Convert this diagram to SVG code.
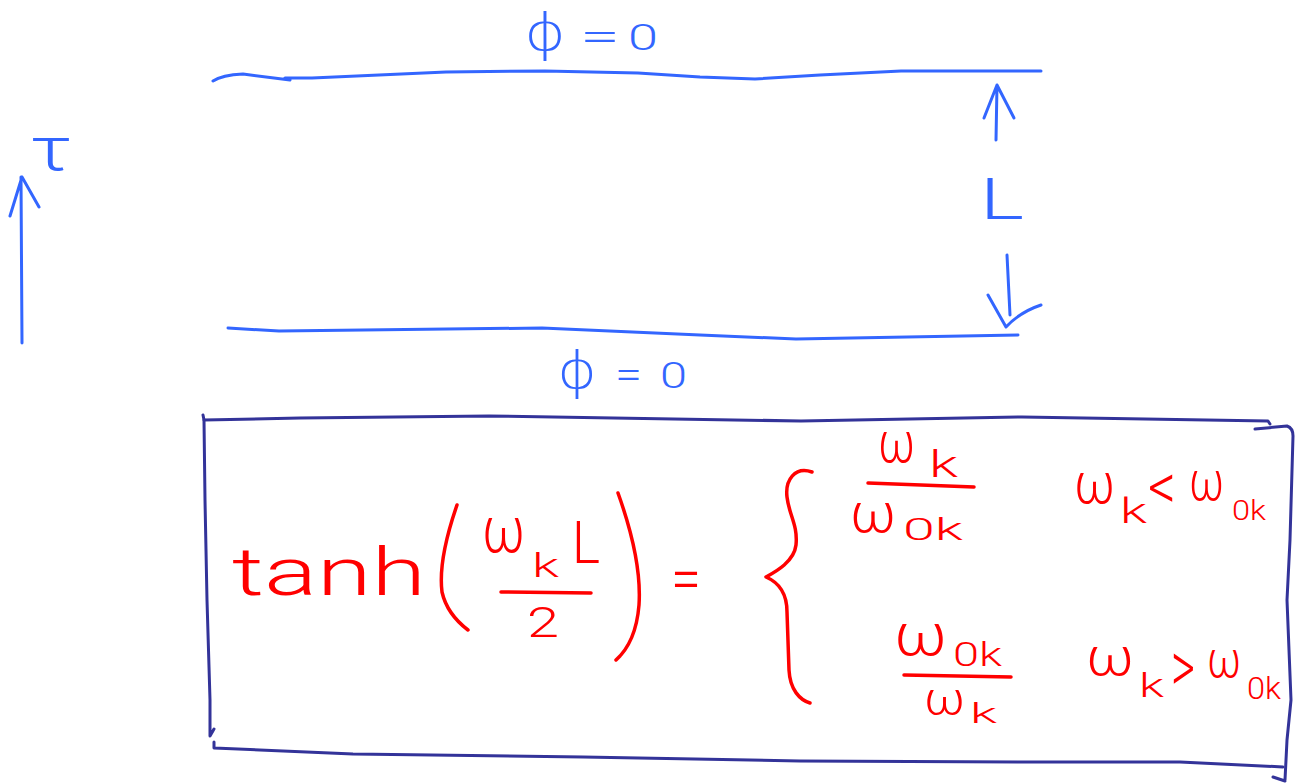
<svg xmlns="http://www.w3.org/2000/svg" width="1305" height="784" viewBox="0 0 1305 784">
<style>
.bl{fill:none;stroke:#3366ff;stroke-width:3;stroke-linecap:round;stroke-linejoin:round}
.db{fill:none;stroke:#333399;stroke-width:3;stroke-linecap:round;stroke-linejoin:round}
.rd{fill:none;stroke:#ff0000;stroke-width:3.5;stroke-linecap:round;stroke-linejoin:round}
.tb{fill:#3366ff;font-family:Roboto,"DejaVu Sans",sans-serif;font-weight:300}
.tr{fill:#ff0000;font-family:Roboto,"DejaVu Sans",sans-serif;font-weight:300}
</style>
<rect width="1305" height="784" fill="#ffffff"/>
<g id="top-boundary">
<path class="bl" d="M213,81 Q222,75 243,74 L290,80 M285,78 L312,78 L446,72 L545,71 L638,73 L700,77 L755,79 L820,75 L901,71 L1041,71"/>
<text class="tb" y="50"><tspan x="524" font-size="52" textLength="42" lengthAdjust="spacingAndGlyphs">ϕ</tspan> <tspan x="580" font-size="40" textLength="40" lengthAdjust="spacingAndGlyphs">=</tspan> <tspan x="628" font-size="36" textLength="30" lengthAdjust="spacingAndGlyphs">0</tspan></text>
</g>
<g id="bottom-boundary">
<path class="bl" d="M228,328 L279,331 L542,328 L700,335 L796,339 L1018,335"/>
<text class="tb" y="388"><tspan x="557" font-size="52" textLength="40" lengthAdjust="spacingAndGlyphs">ϕ</tspan> <tspan x="615" font-size="40" textLength="27" lengthAdjust="spacingAndGlyphs">=</tspan> <tspan x="660" font-size="36" textLength="27" lengthAdjust="spacingAndGlyphs">0</tspan></text>
</g>
<g id="tau-label">
<text class="tb" x="30" y="170" font-size="62" textLength="42" lengthAdjust="spacingAndGlyphs">τ</text>
</g>
<g id="L-label">
<text class="tb" x="980" y="219" font-size="58" textLength="44" lengthAdjust="spacingAndGlyphs">L</text>
</g>
<g id="connectors">
<path class="bl" d="M22,343 L21,177 M10,216 L22,177 L39,207"/>
<path class="bl" d="M996,140 L997,85 M984,118 L997,85 L1014,118"/>
<path class="bl" d="M1007,255 L1010,315 M988,295 L1006,327 Q1020,312 1041,305"/>
</g>
<g id="formula-box">
<path class="db" d="M203,415 L204,420 L300,418 L489,416 L801,421 L1022,417 L1268,421 L1270,424"/>
<path class="db" d="M204,420 L205,500 L207,600 L210,700 L210,736 L214,729"/>
<path class="db" d="M214,742 L214,748 L353,754 L583,757 L800,761 L1033,762 L1180,762 L1283,767"/>
<path class="db" d="M1255,429 L1287,426 Q1293,428 1293,436 L1290,540 L1287,600 L1291,700 L1287,740 L1285,780 M1273,777 L1285,781"/>
</g>
<g id="formula">
<text class="tr" x="232" y="595" font-size="66" textLength="194" lengthAdjust="spacingAndGlyphs">tanh</text>
<path class="rd" d="M457,505 Q438,560 442,592 Q447,614 468,630"/>
<text class="tr" y="552"><tspan x="482" font-size="64" textLength="43" lengthAdjust="spacingAndGlyphs">ω</tspan><tspan x="532" y="577" font-size="33" textLength="27" lengthAdjust="spacingAndGlyphs">k</tspan><tspan x="572" y="563" font-size="60" textLength="28" lengthAdjust="spacingAndGlyphs">L</tspan></text>
<path class="rd" d="M501,592 L591,593"/>
<text class="tr" x="527" y="637" font-size="42" textLength="32" lengthAdjust="spacingAndGlyphs">2</text>
<path class="rd" d="M618,493 Q642,560 639,605 Q636,642 616,660 L620,656"/>
<text class="tr" x="671" y="600" font-size="62" textLength="30" lengthAdjust="spacingAndGlyphs">=</text>
<path class="rd" d="M812,472 C795,466 785,480 787,497 C789,515 798,525 796,545 C794,562 775,572 766,577 C780,583 787,595 787,612 L789,670 C790,690 800,700 810,703"/>
<text class="tr" y="462"><tspan x="878" font-size="57" textLength="37" lengthAdjust="spacingAndGlyphs">ω</tspan><tspan x="929" y="477" font-size="36" textLength="29" lengthAdjust="spacingAndGlyphs">k</tspan></text>
<path class="rd" d="M868,483 L974,487"/>
<text class="tr" y="532"><tspan x="850" font-size="55" textLength="46" lengthAdjust="spacingAndGlyphs">ω</tspan><tspan x="903" y="540" font-size="31" textLength="60" lengthAdjust="spacingAndGlyphs">0k</tspan></text>
<text class="tr" y="503"><tspan x="1074" font-size="58" textLength="41" lengthAdjust="spacingAndGlyphs">ω</tspan><tspan x="1120" y="523" font-size="35" textLength="27" lengthAdjust="spacingAndGlyphs">k</tspan><tspan x="1148" y="509" font-size="64" textLength="28" lengthAdjust="spacingAndGlyphs">&lt;</tspan><tspan x="1189" y="500" font-size="55" textLength="35" lengthAdjust="spacingAndGlyphs">ω</tspan><tspan x="1232" y="520" font-size="28" textLength="34" lengthAdjust="spacingAndGlyphs">0k</tspan></text>
<text class="tr" y="655"><tspan x="894" font-size="60" textLength="53" lengthAdjust="spacingAndGlyphs">ω</tspan><tspan x="953" y="666" font-size="34" textLength="49" lengthAdjust="spacingAndGlyphs">0k</tspan></text>
<path class="rd" d="M904,675 L1011,677"/>
<text class="tr" y="715"><tspan x="924" font-size="47" textLength="41" lengthAdjust="spacingAndGlyphs">ω</tspan><tspan x="970" y="723" font-size="27" textLength="27" lengthAdjust="spacingAndGlyphs">k</tspan></text>
<text class="tr" y="675"><tspan x="1086" font-size="53" textLength="48" lengthAdjust="spacingAndGlyphs">ω</tspan><tspan x="1139" y="697" font-size="34" textLength="25" lengthAdjust="spacingAndGlyphs">k</tspan><tspan x="1171" y="692" font-size="72" textLength="24" lengthAdjust="spacingAndGlyphs">&gt;</tspan><tspan x="1207" y="677" font-size="52" textLength="34" lengthAdjust="spacingAndGlyphs">ω</tspan><tspan x="1247" y="699" font-size="32" textLength="34" lengthAdjust="spacingAndGlyphs">0k</tspan></text>
</g>
</svg>
